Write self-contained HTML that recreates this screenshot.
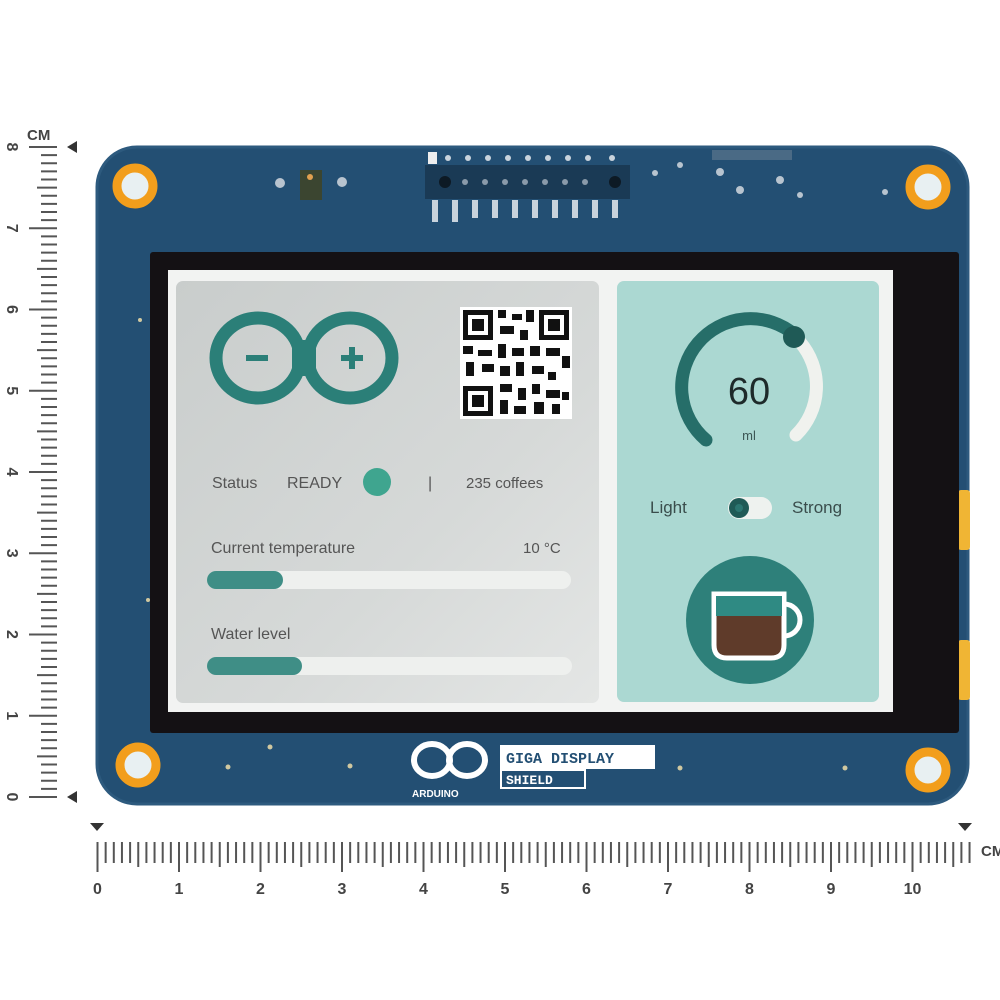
<!DOCTYPE html>
<html><head><meta charset="utf-8"><style>
html,body{margin:0;padding:0;background:#fff;}
svg{display:block;font-family:"Liberation Sans",sans-serif;}
</style></head><body>
<svg width="1000" height="1000" viewBox="0 0 1000 1000" xmlns="http://www.w3.org/2000/svg">
<defs>
<linearGradient id="lp" x1="0" y1="0" x2="1" y2="1"><stop offset="0" stop-color="#c9cdcc"/><stop offset="0.6" stop-color="#d6d9d8"/><stop offset="1" stop-color="#e4e6e5"/></linearGradient>
</defs>
<!-- board -->
<rect x="97" y="147" width="871" height="657" rx="40" fill="#234f73"/>
<rect x="97" y="147" width="871" height="657" rx="40" fill="none" stroke="#2d5a7e" stroke-width="3"/>
<!-- yellow side bits -->
<rect x="958" y="490" width="12" height="60" rx="3" fill="#f0b534"/>
<rect x="958" y="640" width="12" height="60" rx="3" fill="#f0b534"/>
<!-- mounting holes -->
<g fill="#e8f0f2" stroke="#f29e1c" stroke-width="9">
<circle cx="135" cy="186" r="18"/><circle cx="928" cy="187" r="18"/>
<circle cx="138" cy="765" r="18"/><circle cx="928" cy="770" r="18"/>
</g>
<!-- header connector -->
<g>
<rect x="428" y="152" width="9" height="12" fill="#eee"/>
<rect x="425" y="165" width="205" height="34" fill="#1a3a55"/>
<g fill="#c9d3dc">
<circle cx="448" cy="158" r="3"/><circle cx="468" cy="158" r="3"/><circle cx="488" cy="158" r="3"/><circle cx="508" cy="158" r="3"/><circle cx="528" cy="158" r="3"/><circle cx="548" cy="158" r="3"/><circle cx="568" cy="158" r="3"/><circle cx="588" cy="158" r="3"/><circle cx="612" cy="158" r="3"/>
<rect x="432" y="200" width="6" height="22"/><rect x="452" y="200" width="6" height="22"/><rect x="472" y="200" width="6" height="18"/><rect x="492" y="200" width="6" height="18"/><rect x="512" y="200" width="6" height="18"/><rect x="532" y="200" width="6" height="18"/><rect x="552" y="200" width="6" height="18"/><rect x="572" y="200" width="6" height="18"/><rect x="592" y="200" width="6" height="18"/><rect x="612" y="200" width="6" height="18"/>
</g>
<g fill="#0d1a25"><circle cx="445" cy="182" r="6"/><circle cx="615" cy="182" r="6"/></g>
<g fill="#8a9aaa"><circle cx="465" cy="182" r="3"/><circle cx="485" cy="182" r="3"/><circle cx="505" cy="182" r="3"/><circle cx="525" cy="182" r="3"/><circle cx="545" cy="182" r="3"/><circle cx="565" cy="182" r="3"/><circle cx="585" cy="182" r="3"/></g>
</g>
<rect x="300" y="170" width="22" height="30" fill="#3b4530"/>
<circle cx="310" cy="177" r="3" fill="#e0a050"/>
<g fill="#b8c4cf"><circle cx="280" cy="183" r="5"/><circle cx="342" cy="182" r="5"/><circle cx="720" cy="172" r="4"/><circle cx="740" cy="190" r="4"/><circle cx="780" cy="180" r="4"/><circle cx="800" cy="195" r="3"/><circle cx="885" cy="192" r="3"/><circle cx="655" cy="173" r="3"/><circle cx="680" cy="165" r="3"/></g>
<rect x="712" y="150" width="80" height="10" fill="#4a6a85"/>
<g fill="#d0c8a0"><circle cx="228" cy="767" r="2.5"/><circle cx="270" cy="747" r="2.5"/><circle cx="350" cy="766" r="2.5"/><circle cx="680" cy="768" r="2.5"/><circle cx="845" cy="768" r="2.5"/><circle cx="148" cy="600" r="2"/><circle cx="140" cy="320" r="2"/></g>
<!-- bezel -->
<rect x="150" y="252" width="809" height="481" rx="3" fill="#141114"/>
<rect x="168" y="270" width="725" height="442" fill="#f2f3f2"/>
<!-- left panel -->
<rect x="176" y="281" width="423" height="422" rx="7" fill="url(#lp)"/>
<!-- infinity -->
<g fill="none" stroke="#2b7f78" stroke-width="13">
<ellipse cx="258" cy="358" rx="42" ry="40"/>
<ellipse cx="350" cy="358" rx="42" ry="40"/>
</g>
<rect x="292" y="340" width="24" height="36" fill="#2b7f78"/>
<g fill="none" stroke="#2b7f78" stroke-width="6"><line x1="246" y1="358" x2="268" y2="358"/><line x1="341" y1="358" x2="363" y2="358"/><line x1="352" y1="347" x2="352" y2="369"/></g>
<!-- QR -->
<rect x="460" y="307" width="112" height="112" fill="#fff"/>
<g fill="#111">
<rect x="463" y="310" width="30" height="30"/><rect x="539" y="310" width="30" height="30"/><rect x="463" y="386" width="30" height="30"/>
</g>
<g fill="#fff"><rect x="468" y="315" width="20" height="20"/><rect x="544" y="315" width="20" height="20"/><rect x="468" y="391" width="20" height="20"/></g>
<g fill="#111"><rect x="472" y="319" width="12" height="12"/><rect x="548" y="319" width="12" height="12"/><rect x="472" y="395" width="12" height="12"/>
<rect x="498" y="310" width="8" height="8"/><rect x="512" y="314" width="10" height="6"/><rect x="526" y="310" width="8" height="12"/><rect x="500" y="326" width="14" height="8"/><rect x="520" y="330" width="8" height="10"/>
<rect x="463" y="346" width="10" height="8"/><rect x="478" y="350" width="14" height="6"/><rect x="498" y="344" width="8" height="14"/><rect x="512" y="348" width="12" height="8"/><rect x="530" y="346" width="10" height="10"/><rect x="546" y="348" width="14" height="8"/><rect x="562" y="356" width="8" height="12"/>
<rect x="466" y="362" width="8" height="14"/><rect x="482" y="364" width="12" height="8"/><rect x="500" y="366" width="10" height="10"/><rect x="516" y="362" width="8" height="14"/><rect x="532" y="366" width="12" height="8"/><rect x="548" y="372" width="8" height="8"/>
<rect x="500" y="384" width="12" height="8"/><rect x="518" y="388" width="8" height="12"/><rect x="532" y="384" width="8" height="10"/><rect x="546" y="390" width="14" height="8"/><rect x="500" y="400" width="8" height="14"/><rect x="514" y="406" width="12" height="8"/><rect x="534" y="402" width="10" height="12"/><rect x="552" y="404" width="8" height="10"/><rect x="562" y="392" width="7" height="8"/>
</g>
<!-- status -->
<g font-size="16" fill="#555">
<text x="212" y="488">Status</text>
<text x="287" y="488">READY</text>
<text x="428" y="488">|</text>
<text x="466" y="488" font-size="15">235 coffees</text>
<text x="211" y="553">Current temperature</text>
<text x="523" y="553" font-size="15">10 °C</text>
<text x="211" y="639">Water level</text>
</g>
<circle cx="377" cy="482" r="14" fill="#3fa58f"/>
<rect x="207" y="571" width="364" height="18" rx="9" fill="#eef0ee"/>
<rect x="207" y="571" width="76" height="18" rx="9" fill="#3f8e86"/>
<rect x="207" y="657" width="365" height="18" rx="9" fill="#eef0ee"/>
<rect x="207" y="657" width="95" height="18" rx="9" fill="#3f8e86"/>
<!-- right panel -->
<rect x="617" y="281" width="262" height="421" rx="7" fill="#abd8d2"/>
<path d="M 706 440 A 68 68 0 0 1 795 335" fill="none" stroke="#266e69" stroke-width="13" stroke-linecap="round"/>
<path d="M 800 342 A 68 68 0 0 1 796 435" fill="none" stroke="#f0f2ee" stroke-width="13" stroke-linecap="round"/>
<circle cx="794" cy="337" r="11" fill="#1f5a56"/>
<text x="749" y="404" font-size="38" fill="#1e2a2a" text-anchor="middle">60</text>
<text x="749" y="440" font-size="13" fill="#3c5755" text-anchor="middle">ml</text>
<text x="650" y="513" font-size="17" fill="#3a4d4c">Light</text>
<text x="792" y="513" font-size="17" fill="#3a4d4c">Strong</text>
<rect x="728" y="497" width="44" height="22" rx="11" fill="#eef2ef"/>
<circle cx="739" cy="508" r="10" fill="#1f5a56"/><circle cx="739" cy="508" r="4" fill="#2b7570"/>
<circle cx="750" cy="620" r="64" fill="#2e807a"/>
<path d="M 714 594 L 784 594 L 784 645 Q 784 658 771 658 L 727 658 Q 714 658 714 645 Z" fill="#5f3b2a" stroke="#fff" stroke-width="5"/>
<rect x="716" y="596" width="66" height="20" fill="#2f8a83"/>
<path d="M 784 604 A 16 16 0 0 1 784 636" fill="none" stroke="#fff" stroke-width="5"/>
<!-- bottom logo -->
<g fill="none" stroke="#fff" stroke-width="6"><ellipse cx="432" cy="760" rx="18" ry="16"/><ellipse cx="467" cy="760" rx="18" ry="16"/></g>
<text x="412" y="797" font-size="10" font-weight="bold" fill="#fff">ARDUINO</text>
<rect x="500" y="745" width="155" height="24" fill="#fff"/>
<text x="506" y="763" font-family="Liberation Mono" font-size="15" font-weight="bold" fill="#234f73">GIGA DISPLAY</text>
<rect x="501" y="770" width="84" height="18" fill="none" stroke="#fff" stroke-width="2"/>
<text x="506" y="784" font-family="Liberation Mono" font-size="13" font-weight="bold" fill="#fff">SHIELD</text>
<!-- rulers -->
<g id="ticks" stroke="#555" stroke-width="2"></g>
<g font-size="16" font-weight="bold" fill="#444" id="labels"></g>
<text x="27" y="140" font-size="15" font-weight="bold" fill="#444">CM</text>
<text x="981" y="856" font-size="15" font-weight="bold" fill="#444">CM</text>
<polygon points="67,147 77,141 77,153" fill="#333"/>
<polygon points="67,797 77,791 77,803" fill="#333"/>
<polygon points="90,823 104,823 97,831" fill="#333"/>
<polygon points="958,823 972,823 965,831" fill="#333"/>
</svg>
<script>
var t=document.getElementById('ticks'),l=document.getElementById('labels'),s='',q='';
for(var i=0;i<=107;i++){var x=97.5+i*8.15,L=(i%10==0)?30:(i%5==0?25:21);s+='<line x1="'+x+'" y1="842" x2="'+x+'" y2="'+(842+L)+'"/>';}
for(var i=0;i<=80;i++){var y=797-i*8.125,L=(i%10==0)?28:(i%5==0?20:16);s+='<line x1="'+(57-L)+'" y1="'+y+'" x2="57" y2="'+y+'"/>';}
for(var k=0;k<=10;k++){q+='<text x="'+(97.5+k*81.5)+'" y="894" text-anchor="middle">'+k+'</text>';}
for(var k=0;k<=8;k++){var y=797-k*81.25;q+='<text transform="translate(7,'+y+') rotate(90)" text-anchor="middle">'+k+'</text>';}
t.innerHTML=s;l.innerHTML=q;
</script>
</body></html>
